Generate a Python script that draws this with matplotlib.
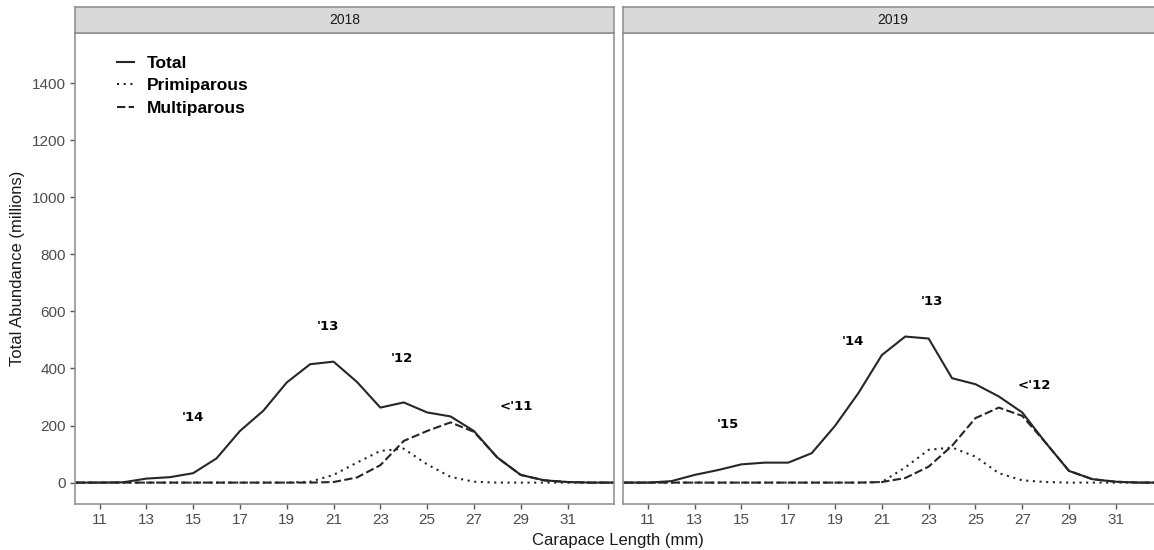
import numpy as np
import matplotlib
matplotlib.use("Agg")
import matplotlib.pyplot as plt

plt.rcParams['font.family'] = ['Liberation Sans', 'DejaVu Sans']

# carapace length (mm)
length = list(range(10, 34))

# 2018 abundance (millions)
total_2018 = [0, 0, 1, 14, 19, 33, 85, 181, 252, 351, 415, 424, 353, 263, 281, 246,
              232, 181, 88, 27, 8, 2, 0, 0]
prim_2018 = [0, 0, 0, 0, 0, 0, 0, 0, 0, 0, 3, 27, 70, 111, 119, 64,
             20, 3, 0, 0, 0, 0, 0, 0]
multi_2018 = [0, 0, 0, 0, 0, 0, 0, 0, 0, 0, 0, 2, 18, 61, 146, 181,
              211, 178, 88, 27, 8, 2, 0, 0]

# 2019 abundance (millions)
total_2019 = [0, 0, 5, 27, 44, 64, 70, 70, 103, 199, 314, 447, 512, 505, 366, 345,
              302, 246, 140, 41, 12, 3, 0, 0]
prim_2019 = [0, 0, 0, 0, 0, 0, 0, 0, 0, 0, 0, 2, 53, 115, 123, 91,
             33, 8, 2, 0, 0, 0, 0, 0]
multi_2019 = [0, 0, 0, 0, 0, 0, 0, 0, 0, 0, 0, 2, 16, 56, 129, 226,
              263, 234, 140, 41, 12, 3, 0, 0]

years = ['2018', '2019']
# year-class labels (text, x, y)
labels_2018 = [("'14", 15.0, 228), ("'13", 20.75, 546), ("'12", 23.9, 434), ("<'11", 28.8, 268)]
labels_2019 = [("'15", 14.4, 203), ("'14", 19.75, 496), ("'13", 23.15, 634), ("<'12", 27.5, 340)]

W, H = 1154, 550
fig = plt.figure(figsize=(W / 100, H / 100), dpi=100)

def px(x0, y0, x1, y1):
    # pixel box -> figure fraction [left, bottom, width, height]
    return [x0 / W, 1 - y1 / H, (x1 - x0) / W, (y1 - y0) / H]

line_col = '#262626'
border_col = '#8c8c8c'
tick_col = '#4d4d4d'

panels = [
    (75, 614.3, years[0], total_2018, prim_2018, multi_2018, labels_2018),
    (623.3, 1162.6, years[1], total_2019, prim_2019, multi_2019, labels_2019),
]

axes = []
for i, (x0, x1, yr, tot, pri, mul, labs) in enumerate(panels):
    ax = fig.add_axes(px(x0, 33.3, x1, 504))
    strip = fig.add_axes(px(x0, 7.3, x1, 33.3))
    strip.set_facecolor('#d9d9d9')
    strip.set_xticks([])
    strip.set_yticks([])
    for s in strip.spines.values():
        s.set_color(border_col)
        s.set_linewidth(1.1)
    strip.text(0.5, 0.5, yr, ha='center', va='center', fontsize=10, color='#1a1a1a',
               transform=strip.transAxes)

    ax.plot(length, mul, color=line_col, lw=1.5, dashes=(4, 1.6), label='Multiparous')
    ax.plot(length, pri, color=line_col, lw=1.5, dashes=(1, 2.2), label='Primiparous')
    ax.plot(length, tot, color=line_col, lw=1.5, label='Total')

    for txt, lx, ly in labs:
        ax.text(lx, ly, txt, ha='center', va='center', fontsize=9.5, fontweight='bold',
                family='DejaVu Sans', color='black')

    ax.set_xlim(9.95, 33.0)
    ax.set_ylim(-75, 1575)
    ax.set_xticks(range(11, 32, 2))
    ax.set_yticks(range(0, 1401, 200))
    for s in ax.spines.values():
        s.set_color(border_col)
        s.set_linewidth(1.1)
    ax.tick_params(axis='both', length=3.5, width=1, color='#555555',
                   labelcolor=tick_col, labelsize=11, pad=3)
    if i == 1:
        ax.tick_params(axis='y', left=False, labelleft=False)
    axes.append(ax)

ax0 = axes[0]
h_tot, h_pri, h_mul = ax0.get_lines()[2], ax0.get_lines()[1], ax0.get_lines()[0]
leg = ax0.legend([h_tot, h_pri, h_mul], ['Total', 'Primiparous', 'Multiparous'],
                 loc='upper left', bbox_to_anchor=(0.078, 0.952), frameon=False,
                 borderpad=0, borderaxespad=0, handlelength=1.0, handletextpad=0.7,
                 labelspacing=0.42, prop={'weight': 'bold', 'size': 12.5})

ax0.set_ylabel('Total Abundance (millions)', fontsize=12, color='#1a1a1a', labelpad=5)
fig.text(618 / W, 1 - 540 / H, 'Carapace Length (mm)', ha='center', va='center',
         fontsize=12, color='#1a1a1a')

fig.savefig('out.png', dpi=100)
